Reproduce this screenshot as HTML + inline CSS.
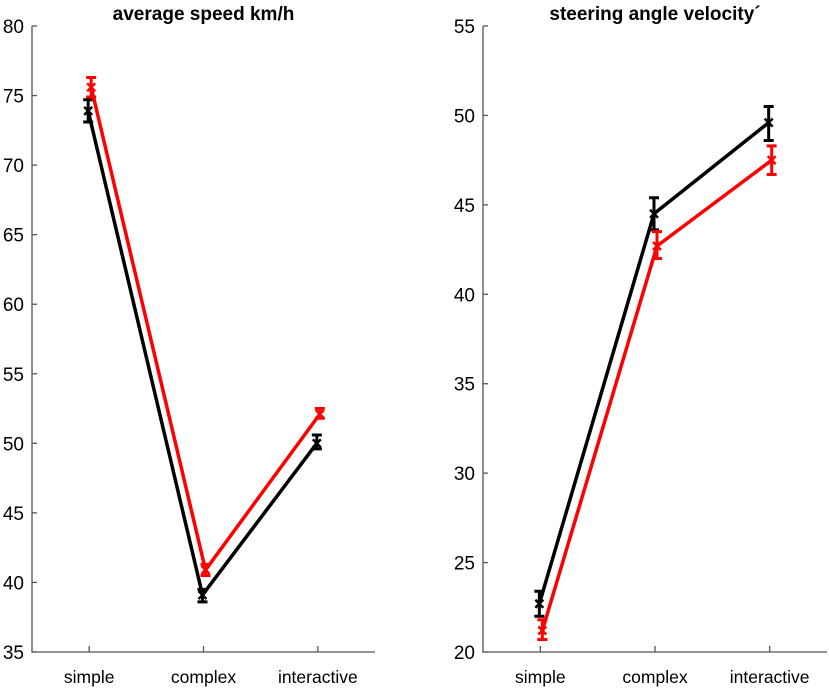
<!DOCTYPE html>
<html><head><meta charset="utf-8"><style>
body{margin:0;background:#fff;}
svg text{font-family:"Liberation Sans",Arial,sans-serif;}
</style></head><body>
<svg id="chart" width="829" height="688" xmlns="http://www.w3.org/2000/svg"></svg>
<script>
const categories = ["simple","complex","interactive"];
const speedBlack = [73.9, 39.1, 50.0];
const speedBlackLo = [73.1, 38.6, 49.6];
const speedBlackHi = [74.7, 39.5, 50.6];
const speedRed = [75.6, 40.9, 52.1];
const speedRedLo = [74.9, 40.5, 51.8];
const speedRedHi = [76.3, 41.3, 52.5];
const speedTicks = [35,40,45,50,55,60,65,70,75,80];
const steerBlack = [22.7, 44.5, 49.6];
const steerBlackLo = [22.0, 43.6, 48.6];
const steerBlackHi = [23.4, 45.4, 50.5];
const steerRed = [21.2, 42.7, 47.5];
const steerRedLo = [20.7, 42.0, 46.7];
const steerRedHi = [21.8, 43.5, 48.3];
const steerTicks = [20,25,30,35,40,45,50,55];

const svg = document.getElementById('chart');
const NS = 'http://www.w3.org/2000/svg';
function mk(tag, attrs, parent){const e=document.createElementNS(NS,tag);for(const k in attrs)e.setAttribute(k,attrs[k]);(parent||svg).appendChild(e);return e;}

function panel(opt){
  const g = mk('g',{});
  
  
  const x0=opt.x0,x1=opt.x1,yTop=26,yBot=652;
  const xs = i => x0 + (i+0.5)*(x1-x0)/categories.length;
  const ys = v => yBot - (v-opt.ymin)/(opt.ymax-opt.ymin)*(yBot-yTop);
  const t = mk('text',{x:(x0+x1)/2,y:20,'text-anchor':'middle','font-size':'19','font-weight':'bold',fill:'#000'},g);
  t.textContent = opt.title;
  
  
  const ax = mk('path',{d:`M${x0},${yTop}V${yBot}H${x1}`,stroke:'#555','stroke-width':1.3,fill:'none'},g);
  
  
  opt.ticks.forEach(v=>{
    mk('line',{x1:x0,x2:x0+5,y1:ys(v),y2:ys(v),stroke:'#555','stroke-width':1.3},g);
    const l = mk('text',{x:x0-8,y:ys(v)+7,'text-anchor':'end','font-size':'19',fill:'#000'},g);
    l.textContent = v;
    
    
  });
  categories.forEach((c,i)=>{
    mk('line',{x1:xs(i),x2:xs(i),y1:yBot,y2:yBot-6,stroke:'#555','stroke-width':1.3},g);
    const l = mk('text',{x:xs(i),y:683,'text-anchor':'middle','font-size':'17.5',fill:'#000'},g);
    l.textContent = c;
    
    
  });
  opt.series.forEach(s=>{
    const sg = mk('g',{},g);
    
    
    const pts = s.v.map((v,i)=>`${xs(i)+s.dx},${ys(v)}`).join(' ');
    mk('polyline',{points:pts,fill:'none',stroke:s.c,'stroke-width':3.5,'stroke-linejoin':'round'},sg);
    s.v.forEach((v,i)=>{
      const x=xs(i)+s.dx, lo=ys(s.lo[i]), hi=ys(s.hi[i]), y=ys(v);
      mk('path',{d:`M${x},${lo}V${hi}M${x-5},${lo}H${x+5}M${x-5},${hi}H${x+5}`,stroke:s.c,'stroke-width':3,fill:'none'},sg);
      mk('path',{d:`M${x-4},${y-4}L${x+4},${y+4}M${x-4},${y+4}L${x+4},${y-4}`,stroke:s.c,'stroke-width':2.5},sg);
    });
  });
}
panel({name:'speed-panel',title:'average speed km/h',x0:32,x1:375,ymin:35,ymax:80,ticks:speedTicks,
  series:[{name:'speed-black-series',v:speedBlack,lo:speedBlackLo,hi:speedBlackHi,c:'#000',dx:-1},
          {name:'speed-red-series',v:speedRed,lo:speedRedLo,hi:speedRedHi,c:'#f00',dx:2}]});
panel({name:'steering-panel',title:'steering angle velocity\u00b4',x0:483,x1:827,ymin:20,ymax:55,ticks:steerTicks,
  series:[{name:'steer-black-series',v:steerBlack,lo:steerBlackLo,hi:steerBlackHi,c:'#000',dx:-1},
          {name:'steer-red-series',v:steerRed,lo:steerRedLo,hi:steerRedHi,c:'#f00',dx:2}]});
</script>
</body></html>
